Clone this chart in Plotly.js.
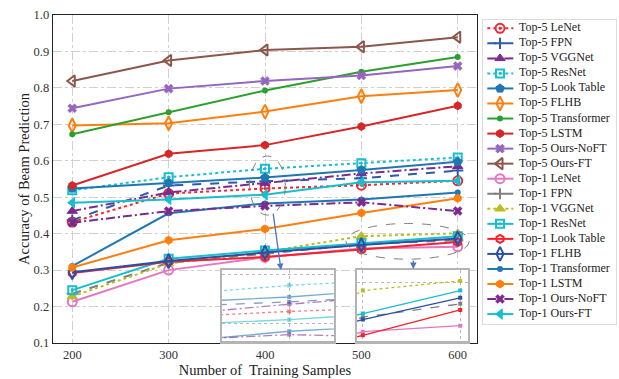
<!DOCTYPE html>
<html><head><meta charset="utf-8">
<script src="https://cdn.plot.ly/plotly-3.0.1.min.js"></script>
<style>html,body{margin:0;padding:0;background:#fff}#chart{width:619px;height:379px}</style>
</head><body><div id="chart"></div>
<script>
// ---------- data ----------
const samples = [200, 300, 400, 500, 600];
const top5LeNet       = [0.432, 0.510, 0.524, 0.533, 0.545];
const top5FPN         = [0.437, 0.532, 0.544, 0.552, 0.573];
const top5VGGNet      = [0.462, 0.513, 0.539, 0.565, 0.585];
const top5ResNet      = [0.519, 0.555, 0.578, 0.593, 0.609];
const top5LookTable   = [0.524, 0.540, 0.554, 0.575, 0.597];
const top5FLHB        = [0.697, 0.703, 0.735, 0.777, 0.794];
const top5Transformer = [0.673, 0.733, 0.793, 0.844, 0.885];
const top5LSTM        = [0.532, 0.619, 0.643, 0.694, 0.751];
const top5OursNoFT    = [0.744, 0.798, 0.819, 0.834, 0.860];
const top5OursFT      = [0.819, 0.875, 0.904, 0.913, 0.939];
const top1LeNet       = [0.213, 0.300, 0.335, 0.359, 0.364];
const top1FPN         = [0.235, 0.320, 0.345, 0.371, 0.382];
const top1VGGNet      = [0.228, 0.318, 0.350, 0.393, 0.401];
const top1ResNet      = [0.245, 0.331, 0.354, 0.374, 0.393];
const top1LookTable   = [0.292, 0.323, 0.336, 0.356, 0.377];
const top1FLHB        = [0.294, 0.325, 0.348, 0.369, 0.387];
const top1Transformer = [0.311, 0.456, 0.483, 0.494, 0.513];
const top1LSTM        = [0.307, 0.382, 0.413, 0.457, 0.497];
const top1OursNoFT    = [0.430, 0.462, 0.476, 0.486, 0.462];
const top1OursFT      = [0.485, 0.494, 0.507, 0.541, 0.545];
const yTicks = [0.1, 0.2, 0.3, 0.4, 0.5, 0.6, 0.7, 0.8, 0.9, 1.0];

const seriesNames = ['Top-5 LeNet','Top-5 FPN','Top-5 VGGNet','Top-5 ResNet','Top-5 Look Table','Top-5 FLHB',
  'Top-5 Transformer','Top-5 LSTM','Top-5 Ours-NoFT','Top-5 Ours-FT','Top-1 LeNet','Top-1 FPN','Top-1 VGGNet',
  'Top-1 ResNet','Top-1 Look Table','Top-1 FLHB','Top-1 Transformer','Top-1 LSTM','Top-1 Ours-NoFT','Top-1 Ours-FT'];
const seriesValues = [top5LeNet, top5FPN, top5VGGNet, top5ResNet, top5LookTable, top5FLHB, top5Transformer,
  top5LSTM, top5OursNoFT, top5OursFT, top1LeNet, top1FPN, top1VGGNet, top1ResNet, top1LookTable, top1FLHB,
  top1Transformer, top1LSTM, top1OursNoFT, top1OursFT];

// ---------- styles ----------
const DD = '9px,3px,2px,3px';
const styles = [
  {c:'#ee2a2f', d:'dot',   s:'circle-open-dot',    z:9,  mw:2},
  {c:'#2a5caa', d:'dash',  s:'cross-thin-open',    z:8,  mw:2},
  {c:'#7d2a8f', d:DD,      s:'triangle-up',        z:9,  mw:1},
  {c:'#17becf', d:'dot',   s:'square-open-dot',    z:8,  mw:2},
  {c:'#1f77b4', d:'solid', s:'pentagon',           z:9,  mw:1},
  {c:'#ff7f0e', d:'solid', s:'diamond-tall-open',  z:10, mw:2},
  {c:'#2ca02c', d:'solid', s:'circle',             z:6,  mw:0},
  {c:'#d62728', d:'solid', s:'hexagon',            z:8,  mw:1},
  {c:'#9467bd', d:'solid', s:'x',                  z:8,  mw:0.5},
  {c:'#8c564b', d:'solid', s:'triangle-left-open', z:10, mw:2},
  {c:'#e377c2', d:'solid', s:'circle-open',        z:9,  mw:2},
  {c:'#7f7f7f', d:'dash',  s:'cross-thin-open',    z:8,  mw:2},
  {c:'#bcbd22', d:'dot',   s:'triangle-up',        z:9,  mw:1},
  {c:'#17becf', d:'solid', s:'square-open-dot',    z:8,  mw:2},
  {c:'#f5222d', d:'solid', s:'hexagon-open',       z:8,  mw:2},
  {c:'#2a4fa5', d:'solid', s:'diamond-tall-open',  z:10, mw:2},
  {c:'#1f77b4', d:'solid', s:'circle',             z:6,  mw:0},
  {c:'#ff7f0e', d:'solid', s:'hexagon',            z:8,  mw:1},
  {c:'#7d2a8f', d:DD,      s:'x',                  z:8,  mw:0.5},
  {c:'#17becf', d:'solid', s:'triangle-left',      z:9,  mw:1}
];

const traces = [];
// main plot
seriesValues.forEach((vals, i) => {
  const st = styles[i];
  traces.push({
    type:'scatter', mode:'lines+markers', x:samples, y:vals, name:seriesNames[i],
    xaxis:'x', yaxis:'y', showlegend:false, hoverinfo:'skip',
    line:{color:st.c, width:2, dash:st.d},
    marker:{symbol:st.s, size:st.z, color:st.c, line:{color:st.c, width:st.mw}}
  });
});
// inset 1 (around 400) and inset 2 (500-600)
[['x2','y2',0.6],['x4','y4',1]].forEach(([xa, ya, op]) => {
  seriesValues.forEach((vals, i) => {
    const st = styles[i];
    traces.push({
      type:'scatter', mode:'lines+markers', x:samples, y:vals, xaxis:xa, yaxis:ya,
      showlegend:false, hoverinfo:'skip', opacity:op,
      line:{color:st.c, width:1.3, dash:st.d},
      marker:{symbol:'square', size:4, color:st.c}
    });
  });
});
// custom legend (entry index -> row)
seriesNames.forEach((nm, i) => {
  const st = styles[i];
  traces.push({
    type:'scatter', mode:'lines+markers', x:[4.3, 17, 30.3], y:[i, i, i], xaxis:'x3', yaxis:'y3',
    showlegend:false, hoverinfo:'skip', cliponaxis:false,
    line:{color:st.c, width:2, dash:st.d},
    marker:{symbol:st.s, size:st.z, color:st.c, opacity:[0,1,0], line:{color:st.c, width:st.mw}}
  });
});
traces.push({
  type:'scatter', mode:'text', x:seriesNames.map(() => 36), y:seriesNames.map((n, i) => i),
  text:seriesNames, textposition:'middle right', xaxis:'x3', yaxis:'y3', showlegend:false,
  hoverinfo:'skip', cliponaxis:false,
  textfont:{family:'Liberation Serif, serif', size:12, color:'#222'}
});

const FONT = 'Liberation Serif, Times New Roman, serif';
const insetAxis = (extra) => Object.assign({
  showticklabels:false, ticks:'', showgrid:true, gridcolor:'#b8b8b8', griddash:'dot', gridwidth:1,
  zeroline:false, showline:true, mirror:true, linecolor:'#b4b4b4', linewidth:2.2
}, extra);

const layout = {
  width:619, height:379,
  margin:{l:53, r:3, t:15, b:36},
  paper_bgcolor:'#ffffff', plot_bgcolor:'#ffffff',
  font:{family:FONT, color:'#222'},
  showlegend:false,
  xaxis:{domain:[0, 0.75311], range:[180, 620], tickvals:samples, ticks:'',
    showgrid:true, gridcolor:'#d0d0d0', griddash:'dashdot', gridwidth:1, zeroline:false,
    showline:true, mirror:true, linecolor:'#222', linewidth:1.3,
    tickfont:{family:FONT, size:12.5, color:'#333'},
    title:{text:'Number of\u00a0 Training Samples', font:{family:FONT, size:14.5, color:'#222'}, standoff:3}},
  yaxis:{domain:[0, 1], range:[0.1, 1.0], tickvals:yTicks, tickformat:'.1f', ticks:'',
    showgrid:true, gridcolor:'#d0d0d0', griddash:'dashdot', gridwidth:1, zeroline:false,
    showline:true, mirror:true, linecolor:'#222', linewidth:1.3,
    tickfont:{family:FONT, size:12.5, color:'#333'},
    title:{text:'Accuracy of Beam Prediction', font:{family:FONT, size:14.5, color:'#222'}, standoff:0}},
  xaxis2:insetAxis({anchor:'y2', domain:[0.30018, 0.49911], range:[352, 432], tickvals:samples}),
  yaxis2:insetAxis({anchor:'x2', domain:[0.005, 0.2226], range:[0.462, 0.610], tickvals:yTicks}),
  xaxis4:insetAxis({anchor:'y4', domain:[0.53996, 0.73712], range:[494, 608], tickvals:samples}),
  yaxis4:insetAxis({anchor:'x4', domain:[0.005, 0.2226], range:[0.351, 0.410], dtick:0.05, tick0:0}),
  xaxis3:{anchor:'y3', domain:[0.7638, 1.0], range:[0, 133], showticklabels:false, ticks:'', showgrid:false,
    zeroline:false, showline:true, mirror:true, linecolor:'#dcdcdc', linewidth:1.2},
  yaxis3:{anchor:'x3', domain:[0.0579, 0.9848], range:[19.66, -0.552], showticklabels:false, ticks:'',
    showgrid:false, zeroline:false, showline:true, mirror:true, linecolor:'#dcdcdc', linewidth:1.2},
  shapes:[
    {type:'circle', xref:'x', yref:'y', x0:384, x1:421, y0:0.451, y1:0.613, layer:'above',
      line:{color:'#808080', width:1, dash:'dash'}},
    {type:'circle', xref:'x', yref:'y', x0:484, x1:612, y0:0.330, y1:0.428, layer:'above',
      line:{color:'#808080', width:1, dash:'dash'}}
  ],
  annotations:[
    {x:416.6, y:0.300, ax:408.3, ay:0.459, xref:'x', yref:'y', axref:'x', ayref:'y', text:'',
      showarrow:true, arrowhead:2, arrowsize:1, arrowwidth:1.3, arrowcolor:'#4a74c4'},
    {x:553.9, y:0.303, ax:553.9, ay:0.330, xref:'x', yref:'y', axref:'x', ayref:'y', text:'',
      showarrow:true, arrowhead:2, arrowsize:1, arrowwidth:1.3, arrowcolor:'#4a74c4'}
  ]
};

Plotly.newPlot('chart', traces, layout, {displayModeBar:false, staticPlot:true});
</script></body></html>
